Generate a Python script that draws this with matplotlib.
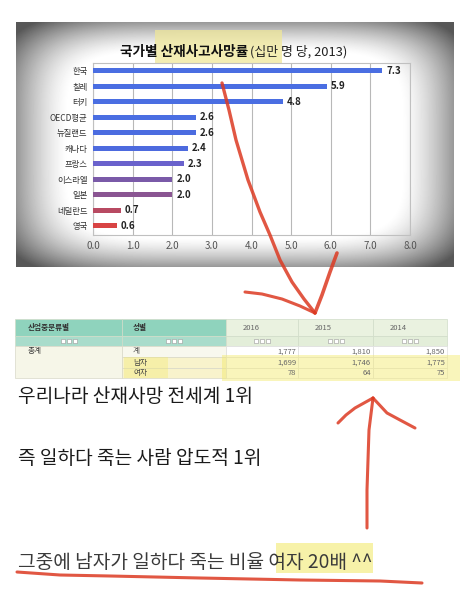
import numpy as np
import matplotlib
matplotlib.use("Agg")
import matplotlib.pyplot as plt
from matplotlib.patches import Rectangle

plt.rcParams['font.family'] = ['Noto Sans CJK KR', 'DejaVu Sans']

# Chart data
countries = ['한국', '칠레', '터키', 'OECD평균', '뉴질랜드', '캐나다',
             '프랑스', '이스라엘', '일본', '네덜란드', '영국']
rates = [7.3, 5.9, 4.8, 2.6, 2.6, 2.4, 2.3, 2.0, 2.0, 0.7, 0.6]
bar_colors = ['#4a6ee2', '#4a6ee2', '#4a6ee2', '#4a6ee2', '#4b6ce0', '#4d6ade',
              '#6a62cc', '#7a5aa8', '#8a5592', '#b84a62', '#d84444']
x_ticks = [0, 1, 2, 3, 4, 5, 6, 7, 8]

# Table data
years = ['2016', '2015', '2014']
sexes = ['계', '남자', '여자']
deaths_2016 = [1777, 1699, 78]
deaths_2015 = [1810, 1746, 64]
deaths_2014 = [1850, 1775, 75]

captions = ['우리나라 산재사망 전세계 1위',
            '즉 일하다 죽는 사람 압도적 1위',
            '그중에 남자가 일하다 죽는 비율 여자 20배 ^^']

fig = plt.figure(figsize=(4.71, 5.99), dpi=100)
fig.patch.set_facecolor('white')

# background layer in pixel coordinates
bg = fig.add_axes([0, 0, 1, 1])
bg.set_xlim(0, 471)
bg.set_ylim(599, 0)
bg.axis('off')

# soft vignette of the screenshot (x 16..454, y 22..267)
x0, x1, y0, y1 = 16, 454, 22, 267
W, H = x1 - x0, y1 - y0
u = (np.arange(W) + 0.5 - W / 2) / (W / 2)
v = (np.arange(H) + 0.5 - H / 2) / (H / 2)
r = (np.abs(u)[None, :] ** 5 + np.abs(v)[:, None] ** 5) ** (1 / 5)
t = np.clip((r - 0.76) / 0.34, 0, 1)
vign = 1 - 0.66 * t ** 1.4
bg.imshow(vign, cmap='gray', vmin=0, vmax=1, extent=(x0, x1, y1, y0),
          interpolation='bilinear', aspect='auto')

# title highlight + title
bg.add_patch(Rectangle((155, 30), 127, 33, color='#efe79a', alpha=0.75, lw=0))
bg.text(248, 52, '국가별 산재사고사망률', ha='right', va='center',
        fontsize=9.8, fontweight='bold', color='#111')
bg.text(250, 52, '(십만 명 당, 2013)', ha='left', va='center',
        fontsize=9.3, color='#222')

# bar chart
ax = fig.add_axes([93 / 471, 1 - 235 / 599, 317 / 471, 172 / 599], zorder=2)
ax.set_facecolor('none')
ypos = np.arange(len(countries))
ax.barh(ypos, rates, height=0.33, color=bar_colors, zorder=3)
for y, val in zip(ypos, rates):
    ax.text(val + 0.1, y, f'{val:.1f}', va='center', ha='left', fontsize=7,
            fontweight='bold', color='#222')
ax.set_xlim(0, 8)
ax.set_ylim(10.6, -0.5)
ax.set_xticks(x_ticks)
ax.set_xticklabels([f'{val:.1f}' for val in x_ticks], fontsize=7, color='#555')
ax.set_yticks(ypos)
ax.set_yticklabels(countries, fontsize=6, color='#333')
ax.tick_params(length=0, pad=4)
ax.grid(axis='x', color='#b8b8b8', lw=0.8, zorder=1)
for sp in ax.spines.values():
    sp.set_color('#c0c0c0')
    sp.set_linewidth(0.8)

# table
cols = [15, 122, 226, 298, 373, 447]
rows = [319, 336, 346, 357, 368, 378]
green1, green2 = '#8fd3bd', '#a9dccb'
yearhead1, yearhead2 = '#eaf2e0', '#e3eed9'
for c in range(5):
    w = cols[c + 1] - cols[c]
    bg.add_patch(Rectangle((cols[c], rows[0]), w, rows[1] - rows[0],
                           facecolor=green1 if c < 2 else yearhead1,
                           edgecolor='#d0dcc8', lw=0.5))
    bg.add_patch(Rectangle((cols[c], rows[1]), w, rows[2] - rows[1],
                           facecolor=green2 if c < 2 else yearhead2,
                           edgecolor='#d0dcc8', lw=0.5))
    cx = (cols[c] + cols[c + 1]) / 2
    for k in (-6, 0, 6):
        bg.add_patch(Rectangle((cx + k - 2, rows[1] + 3), 4, 4,
                               facecolor='white', edgecolor='#999', lw=0.4))
bg.add_patch(Rectangle((cols[0], rows[2]), cols[1] - cols[0], rows[5] - rows[2],
                       facecolor='#f6f6e8', edgecolor='#d8d8c8', lw=0.5))
for r_ in range(3):
    bg.add_patch(Rectangle((cols[1], rows[2 + r_]), cols[2] - cols[1],
                           rows[3 + r_] - rows[2 + r_],
                           facecolor='#f8f8ee' if r_ == 0 else '#f8f3cc',
                           edgecolor='#d8d8c8', lw=0.5))
    for c in range(2, 5):
        bg.add_patch(Rectangle((cols[c], rows[2 + r_]), cols[c + 1] - cols[c],
                               rows[3 + r_] - rows[2 + r_],
                               facecolor='white', edgecolor='#dedede', lw=0.5))

bg.text(28, 327.5, '산업중분류별', fontsize=5.5, fontweight='bold',
        color='#333', va='center')
bg.text(133, 327.5, '성별', fontsize=5.5, fontweight='bold', color='#333', va='center')
for c, yr in enumerate(years):
    bg.text(cols[c + 2] + 17, 327.5, yr, fontsize=5.5, color='#666', va='center')
bg.text(28, 351.5, '총계', fontsize=5.5, color='#333', va='center')
for r_, sx in enumerate(sexes):
    yc = (rows[2 + r_] + rows[3 + r_]) / 2
    bg.text(133, yc, sx, fontsize=5.5, color='#444', va='center')
    for c, vals in enumerate([deaths_2016, deaths_2015, deaths_2014]):
        bg.text(cols[c + 3] - 2, yc, f'{vals[r_]:,}', fontsize=5.5,
                color='#666', va='center', ha='right')

# yellow highlighter on the table
bg.add_patch(Rectangle((222, 355), 238, 26, color='#f3ea6a', alpha=0.45, lw=0))
bg.add_patch(Rectangle((124, 357), 44, 21, color='#f3ea6a', alpha=0.35, lw=0))

# caption lines
bg.add_patch(Rectangle((276, 543), 97, 30, color='#f2ea70', alpha=0.6, lw=0))
bg.text(18, 397, captions[0], fontsize=13.8, color='#1a1a1a', va='center')
bg.text(18, 458, captions[1], fontsize=13.8, color='#1a1a1a', va='center')
bg.text(18, 563, captions[2], fontsize=13.8, color='#3a3a3a', va='center')

# red hand-drawn strokes on top
ov = fig.add_axes([0, 0, 1, 1], zorder=10)
ov.set_facecolor('none')
ov.set_xlim(0, 471)
ov.set_ylim(599, 0)
ov.axis('off')
red = '#dc3a22'

arrow1 = [(222, 83), (229, 110), (236, 140), (248, 180), (260, 212),
          (270, 235), (280, 260), (292, 282), (304, 299), (315, 313)]
head1a = [(245, 292), (262, 294), (282, 299), (300, 306), (315, 313)]
head1b = [(315, 313), (322, 295), (330, 272), (337, 253)]
arrow2 = [(367, 528), (367, 490), (368, 460), (369, 430), (373, 398)]
head2a = [(338, 423), (346, 415), (355, 408), (373, 398)]
head2b = [(373, 398), (387, 413), (400, 420), (415, 428)]
underline = [(17, 572), (60, 575), (110, 576), (200, 578), (300, 580),
             (380, 581), (422, 583)]

for path, lw in [(arrow1, 2.4), (head1a, 2.2), (head1b, 2.6),
                 (arrow2, 2.2), (head2a, 2.2), (head2b, 2.2),
                 (underline, 2.2)]:
    px, py = zip(*path)
    ov.plot(px, py, color=red, lw=lw, alpha=0.85, solid_capstyle='round',
            solid_joinstyle='round')

fig.savefig('out.png', dpi=100)
